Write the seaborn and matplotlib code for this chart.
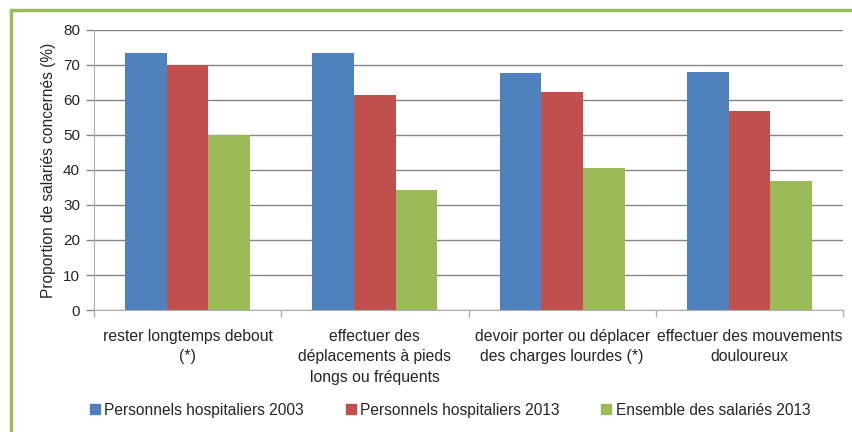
import matplotlib
matplotlib.use("Agg")
import matplotlib.pyplot as plt
from matplotlib.lines import Line2D
import seaborn as sns
import pandas as pd

# categories and series
categories = [
    "rester longtemps debout\n(*)",
    "effectuer des\ndéplacements à pieds\nlongs ou fréquents",
    "devoir porter ou déplacer\ndes charges lourdes (*)",
    "effectuer des mouvements\ndouloureux",
]
series = ["Personnels hospitaliers 2003", "Personnels hospitaliers 2013", "Ensemble des salariés 2013"]
hosp_2003 = [73.3, 73.3, 67.6, 68.1]
hosp_2013 = [70.0, 61.3, 62.2, 56.9]
ensemble_2013 = [50.0, 34.3, 40.5, 36.8]
colors = ["#4F81BD", "#C0504D", "#9BBB59"]

rows = []
for name, vals in zip(series, [hosp_2003, hosp_2013, ensemble_2013]):
    for cat, v in zip(categories, vals):
        rows.append({"cat": cat, "serie": name, "val": v})
df = pd.DataFrame(rows)

sns.set_style("white")
plt.rcParams["font.family"] = ["Liberation Sans", "DejaVu Sans"]

fig = plt.figure(figsize=(8.53, 4.32), dpi=100)
ax = fig.add_axes([0.1102, 0.2824, 0.8781, 0.6482])

sns.barplot(data=df, x="cat", y="val", hue="serie", palette=colors,
            width=0.667, saturation=1, ax=ax, legend=False, linewidth=0)

ax.set_ylim(0, 80)
ax.set_xlim(-0.5, 3.5)
ax.set_yticks(range(0, 81, 10))
ax.yaxis.grid(True, color="#868686", linewidth=1)
ax.set_axisbelow(True)
ax.tick_params(axis="y", labelsize=11, length=6, width=1, color="#868686", pad=4, left=True)
ax.set_xticks(range(4))
ax.set_xticklabels(categories, fontsize=11.3, linespacing=1.42)
ax.set_xticks([-0.5, 0.5, 1.5, 2.5, 3.5], minor=True)
ax.tick_params(axis="x", which="major", length=0, pad=14)
ax.tick_params(axis="x", which="minor", length=5, width=1, color="#b0b0b0", bottom=True)
ax.set_xlabel("")
ax.set_ylabel("Proportion de salariés concernés (%)", fontsize=11.2, labelpad=5)
for s in ["top", "right"]:
    ax.spines[s].set_visible(False)
ax.spines["left"].set_color("#b0b0b0")
ax.spines["bottom"].set_color("#b0b0b0")

handles = [Line2D([], [], marker="s", linestyle="", markersize=7.5,
                  markerfacecolor=c, markeredgecolor=c) for c in colors]
fig.legend(handles, series, loc="center", bbox_to_anchor=(0.527, 0.05), ncol=3,
           frameon=False, fontsize=11.2, handletextpad=0.2, columnspacing=2.6,
           handlelength=0.8)

# green frame (top and left edges visible in the crop)
fig.add_artist(Line2D([0.013, 0.013], [0, 0.977], transform=fig.transFigure,
                      color="#9BBB59", linewidth=2.5))
fig.add_artist(Line2D([0.013, 1], [0.977, 0.977], transform=fig.transFigure,
                      color="#9BBB59", linewidth=2.5))

fig.savefig("out.png", dpi=100)
